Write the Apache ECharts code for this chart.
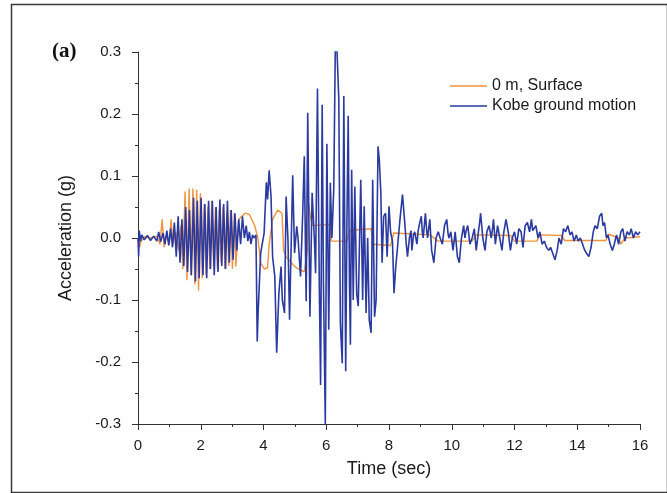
<!DOCTYPE html>
<html>
<head>
<meta charset="utf-8">
<script src="https://cdn.jsdelivr.net/npm/echarts@6/dist/echarts.min.js"></script>
<style>
  html, body { margin: 0; padding: 0; background: #fff; }
  #chart { width: 667px; height: 493px; }
</style>
</head>
<body>
<div id="chart"></div>
<script>
// Surface response (0 m) — time (s) and acceleration (g)
const surfaceTime = [
  0.00, 0.05, 0.10, 0.20, 0.40, 0.60, 0.70, 0.77, 0.83, 0.90, 1.00, 1.05, 1.12, 1.20, 1.30, 1.37,
  1.43, 1.50, 1.56, 1.63, 1.69, 1.75, 1.81, 1.87, 1.93, 1.99, 2.05, 2.11, 2.17, 2.23, 2.29, 2.35,
  2.41, 2.47, 2.53, 2.59, 2.65, 2.71, 2.77, 2.83, 2.89, 2.95, 3.01, 3.07, 3.12, 3.21, 3.41, 3.55,
  3.72, 3.82, 3.91, 4.02, 4.13, 4.18, 4.29, 4.45, 4.59, 4.64, 4.72, 4.97, 5.17, 5.30, 5.40, 5.44,
  5.51, 5.58, 6.12, 6.16, 6.66, 6.75, 7.43, 7.51, 8.05, 8.15, 9.30, 9.57, 10.65, 10.78, 11.87, 12.00,
  12.71, 12.81, 13.49, 13.60, 14.91, 15.00, 15.32, 15.39, 15.52, 16.00
];
const surfaceAcc = [
  0.000, -0.015, -0.005, 0.002, 0.000, 0.003, -0.010, 0.030, -0.015, 0.005, -0.010, 0.030, -0.010, 0.010, -0.020, 0.020,
  -0.050, 0.075, -0.068, 0.080, -0.060, 0.080, -0.075, 0.078, -0.085, 0.072, -0.065, 0.055, -0.060, 0.050, -0.050, 0.060,
  -0.045, 0.050, -0.050, 0.045, -0.040, 0.050, -0.050, 0.040, -0.045, 0.045, -0.050, 0.040, -0.046, 0.030, 0.040, 0.038,
  0.020, 0.000, -0.040, -0.050, -0.048, -0.010, 0.030, 0.045, 0.040, -0.020, -0.030, -0.045, -0.052, -0.054, -0.020, 0.055,
  0.030, 0.020, 0.022, -0.005, -0.005, 0.012, 0.015, -0.010, -0.012, 0.008, 0.005, -0.005, -0.005, 0.005, 0.004, -0.005,
  -0.005, 0.005, 0.004, -0.004, -0.004, 0.006, 0.000, -0.010, 0.000, 0.002
];

// Kobe input ground motion — time (s) and acceleration (g)
const kobeTime = [
  0.00, 0.02, 0.04, 0.08, 0.12, 0.20, 0.30, 0.40, 0.50, 0.60, 0.66, 0.72, 0.80, 0.86, 0.92, 0.98,
  1.04, 1.10, 1.16, 1.22, 1.28, 1.34, 1.40, 1.46, 1.52, 1.58, 1.64, 1.70, 1.77, 1.83, 1.89, 1.95,
  2.01, 2.07, 2.13, 2.19, 2.25, 2.31, 2.37, 2.43, 2.49, 2.55, 2.61, 2.67, 2.73, 2.79, 2.85, 2.91,
  2.97, 3.03, 3.09, 3.15, 3.21, 3.27, 3.33, 3.39, 3.45, 3.50, 3.55, 3.60, 3.65, 3.70, 3.76, 3.80,
  3.83, 3.91, 4.02, 4.09, 4.13, 4.18, 4.24, 4.29, 4.36, 4.42, 4.49, 4.56, 4.60, 4.67, 4.72, 4.78,
  4.83, 4.93, 4.99, 5.06, 5.10, 5.18, 5.25, 5.30, 5.36, 5.41, 5.48, 5.55, 5.62, 5.66, 5.72, 5.78,
  5.82, 5.87, 5.91, 5.97, 6.02, 6.08, 6.13, 6.18, 6.24, 6.30, 6.40, 6.45, 6.51, 6.56, 6.62, 6.66,
  6.70, 6.74, 6.77, 6.81, 6.86, 6.91, 6.97, 7.02, 7.10, 7.16, 7.21, 7.27, 7.32, 7.37, 7.43, 7.48,
  7.54, 7.59, 7.65, 7.69, 7.74, 7.78, 7.83, 7.89, 7.94, 8.00, 8.05, 8.11, 8.16, 8.21, 8.28, 8.35, 8.43,
  8.51, 8.55, 8.59, 8.65, 8.70, 8.73, 8.78, 8.82, 8.89, 8.93, 8.96, 9.03, 9.06, 9.09, 9.16, 9.20, 9.23, 9.30, 9.36, 9.43, 9.50, 9.57,
  9.63, 9.70, 9.77, 9.84, 9.88, 9.91, 9.97, 10.04, 10.11, 10.18, 10.24, 10.31, 10.38, 10.42, 10.45, 10.51, 10.58, 10.65, 10.72,
  10.78, 10.85, 10.89, 10.92, 10.99, 11.06, 11.12, 11.19, 11.26, 11.30, 11.33, 11.39, 11.46, 11.53, 11.60, 11.66, 11.73, 11.80,
  11.87, 11.93, 12.00, 12.07, 12.14, 12.21, 12.27, 12.34, 12.41, 12.48, 12.54, 12.58, 12.61, 12.68, 12.75, 12.81, 12.88,
  12.95, 13.02, 13.09, 13.15, 13.22, 13.29, 13.36, 13.42, 13.49, 13.56, 13.63, 13.70, 13.77, 13.83, 13.90, 13.97,
  14.03, 14.10, 14.17, 14.24, 14.30, 14.37, 14.44, 14.51, 14.57, 14.64, 14.71, 14.78, 14.82, 14.87, 14.93, 14.98,
  15.05, 15.12, 15.18, 15.25, 15.32, 15.39, 15.45, 15.52, 15.59, 15.66, 15.72, 15.79, 15.86, 15.93, 16.00
];
const kobeAcc = [
  0.000, -0.030, 0.012, -0.005, 0.005, -0.003, 0.004, -0.004, 0.003, -0.005, 0.010, -0.006, 0.008, -0.010, 0.012, -0.012,
  0.015, -0.015, 0.025, -0.030, 0.035, -0.040, 0.030, -0.045, 0.050, -0.055, 0.045, -0.060, 0.065, -0.070, 0.060, -0.065,
  0.065, -0.060, 0.055, -0.065, 0.060, -0.050, 0.060, -0.060, 0.050, -0.055, 0.062, -0.045, 0.055, -0.050, 0.060, -0.040,
  0.045, -0.035, 0.040, -0.020, 0.030, -0.010, 0.035, 0.000, 0.020, -0.005, 0.010, -0.010, 0.005, 0.000, 0.005, -0.167,
  -0.118, -0.024, 0.008, 0.090, 0.062, 0.109, 0.067, -0.030, -0.062, -0.185, -0.089, -0.046, -0.100, -0.121, 0.067, -0.003,
  -0.132, 0.101, -0.024, 0.019, 0.000, -0.062, 0.040, 0.132, -0.102, 0.202, -0.127, 0.073, 0.000, -0.057, 0.241, -0.083,
  -0.237, 0.215, -0.070, -0.300, 0.152, -0.148, 0.089, 0.000, 0.080, 0.360, 0.224, -0.137, -0.202, 0.229, -0.215, 0.030,
  0.197, -0.070, -0.172, 0.110, -0.100, 0.083, -0.090, -0.110, 0.094, -0.100, 0.051, -0.121, 0.000, -0.132, -0.153, 0.094,
  -0.127, -0.100, 0.148, 0.127, 0.073, -0.040, 0.035, 0.040, -0.030, 0.051, 0.010, -0.005, -0.089, -0.050, -0.010, 0.030, 0.070,
  0.020, -0.010, -0.030, 0.000, 0.012, -0.020, 0.005, 0.010, -0.010, 0.012, 0.020, 0.035, 0.010, 0.000, 0.040, 0.012, 0.000, 0.030, -0.020, -0.040, 0.000, 0.010,
  0.000, -0.010, 0.020, 0.030, 0.008, 0.000, 0.010, -0.020, 0.010, -0.030, -0.040, 0.000, 0.020, 0.000, 0.010, 0.020, -0.010, 0.000, 0.015,
  -0.020, 0.010, 0.025, 0.040, 0.000, -0.020, 0.010, 0.020, 0.000, 0.015, 0.030, -0.010, 0.020, 0.000, -0.020, 0.010, 0.030, 0.010,
  -0.020, 0.000, 0.010, -0.010, 0.015, 0.010, -0.015, 0.020, 0.025, 0.010, 0.030, 0.012, 0.015, 0.020, 0.000, 0.010, -0.010,
  -0.005, -0.015, -0.020, -0.015, -0.025, -0.035, -0.020, 0.000, -0.010, 0.015, 0.010, 0.020, 0.005, 0.010, -0.005, 0.005,
  -0.005, 0.000, -0.010, -0.020, -0.025, -0.030, -0.015, 0.010, 0.020, 0.015, 0.035, 0.040, 0.020, 0.025, 0.000, 0.005,
  -0.010, -0.020, -0.010, 0.005, -0.010, 0.010, 0.015, -0.005, 0.010, 0.005, 0.015, 0.000, 0.010, 0.005, 0.010
];

// Axis tick settings
const timeTicks = { min: 0, max: 16, step: 2 };
const accTicks = { min: -0.3, max: 0.3, step: 0.1 };

const zip = (xs, ys) => xs.map((x, i) => [x, ys[i]]);

const FONT = '"Liberation Sans", Arial, sans-serif';
const INK = '#1a1a1a';
const chart = echarts.init(document.getElementById('chart'), null, { renderer: 'canvas' });

chart.setOption({
  backgroundColor: '#ffffff',
  animation: false,
  grid: { left: 138, right: 27, top: 52, bottom: 69, containLabel: false },
  legend: {
    orient: 'vertical',
    left: 445,
    top: 73,
    icon: 'rect',
    itemWidth: 37,
    itemHeight: 1.5,
    itemGap: 4,
    textStyle: { fontFamily: FONT, fontSize: 16, color: INK },
    data: ['0 m, Surface', 'Kobe ground motion']
  },
  xAxis: {
    type: 'value',
    min: timeTicks.min,
    max: timeTicks.max,
    interval: timeTicks.step,
    name: 'Time (sec)',
    nameLocation: 'middle',
    nameGap: 36,
    nameTextStyle: { fontFamily: FONT, fontSize: 18, color: INK },
    axisLine: { show: true, onZero: false, lineStyle: { color: '#333', width: 1 } },
    axisTick: { show: true, inside: false, length: 6, lineStyle: { color: '#333' } },
    minorTick: { show: true, splitNumber: 2, length: 3, lineStyle: { color: '#333' } },
    axisLabel: { fontFamily: FONT, fontSize: 15, color: INK, margin: 14 },
    splitLine: { show: false }
  },
  yAxis: {
    type: 'value',
    min: accTicks.min,
    max: accTicks.max,
    interval: accTicks.step,
    name: 'Acceleration (g)',
    nameLocation: 'middle',
    nameGap: 63,
    nameTextStyle: { fontFamily: FONT, fontSize: 18, color: INK },
    axisLine: { show: true, onZero: false, lineStyle: { color: '#333', width: 1 } },
    axisTick: { show: true, inside: false, length: 6, lineStyle: { color: '#333' } },
    minorTick: { show: true, splitNumber: 2, length: 3, lineStyle: { color: '#333' } },
    axisLabel: {
      fontFamily: FONT, fontSize: 15, color: INK, margin: 17,
      formatter: v => (Math.abs(v) < 1e-9 ? 0 : v).toFixed(1)
    },
    splitLine: { show: false }
  },
  series: [
    {
      name: '0 m, Surface',
      type: 'line',
      data: zip(surfaceTime, surfaceAcc),
      showSymbol: false,
      symbol: 'none',
      clip: true,
      lineStyle: { color: '#f0923e', width: 1.4 },
      itemStyle: { color: '#f0923e' }
    },
    {
      name: 'Kobe ground motion',
      type: 'line',
      data: zip(kobeTime, kobeAcc),
      showSymbol: false,
      symbol: 'none',
      clip: true,
      lineStyle: { color: '#2b3aa0', width: 1.6 },
      itemStyle: { color: '#2b3aa0' }
    }
  ],
  graphic: [
    {
      type: 'rect',
      left: 9, top: 2,
      shape: { width: 656, height: 488 },
      style: { fill: 'none', stroke: '#3a3a3a', lineWidth: 1.5 },
      silent: true
    },
    {
      type: 'text',
      left: 52, top: 41,
      style: { text: '(a)', font: 'bold 21px "Liberation Serif", "Times New Roman", serif', fill: '#111' },
      silent: true
    }
  ]
});
</script>
</body>
</html>
